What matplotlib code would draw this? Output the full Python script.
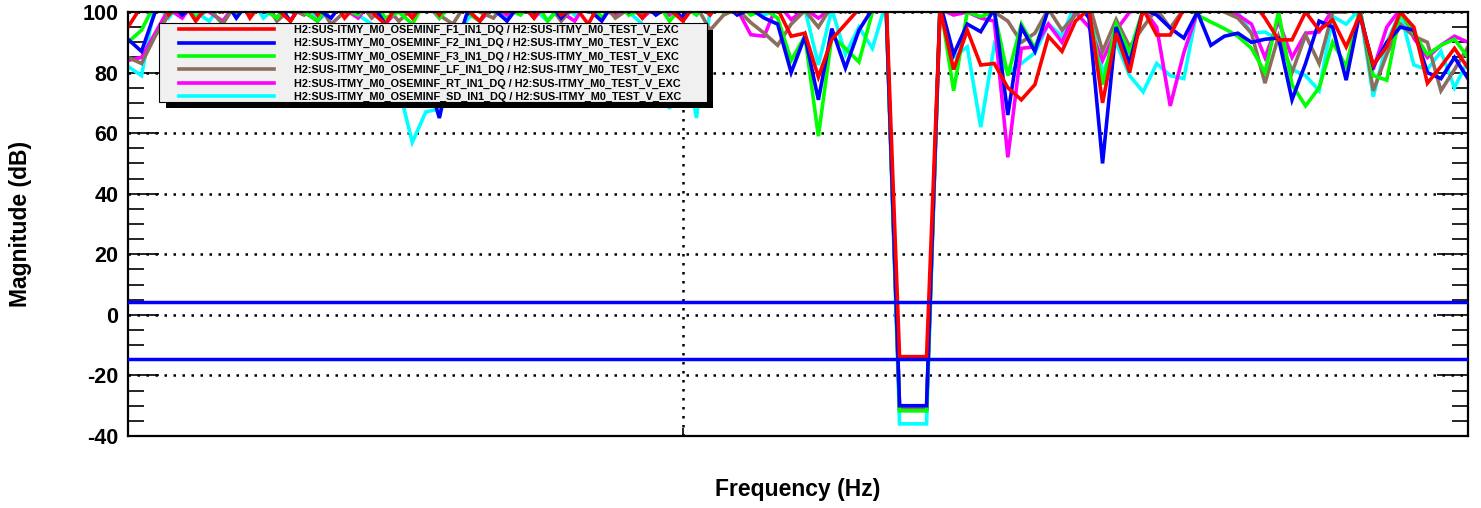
#!/usr/bin/env python3
"""ITMY M0 OSEM -> TEST_V transfer function magnitude (6 OSEM channels)."""
import matplotlib
matplotlib.use("Agg")
import matplotlib.pyplot as plt
from matplotlib.patches import Rectangle
from matplotlib.ticker import FixedLocator, MultipleLocator, NullLocator, NullFormatter

OUT = "out.png"

# swept-sine frequency points (Hz), 60 per decade
FREQ = [0.2073, 0.2154, 0.2239, 0.2326, 0.2417, 0.2512, 0.2610, 0.2712, 0.2818, 0.2929,
        0.3043, 0.3162, 0.3286, 0.3415, 0.3548, 0.3687, 0.3831, 0.3981, 0.4137, 0.4299,
        0.4467, 0.4642, 0.4823, 0.5012, 0.5208, 0.5412, 0.5623, 0.5843, 0.6072, 0.6310,
        0.6556, 0.6813, 0.7079, 0.7356, 0.7644, 0.7943, 0.8254, 0.8577, 0.8913, 0.9261,
        0.9624, 1.000, 1.039, 1.080, 1.122, 1.166, 1.212, 1.259, 1.308, 1.359,
        1.413, 1.468, 1.525, 1.585, 1.647, 1.711, 1.778, 1.848, 1.920, 1.995,
        2.073, 2.154, 2.239, 2.326, 2.417, 2.512, 2.610, 2.712, 2.818, 2.929,
        3.043, 3.162, 3.286, 3.415, 3.548, 3.687, 3.831, 3.981, 4.137, 4.299,
        4.467, 4.642, 4.823, 5.012, 5.208, 5.412, 5.623, 5.843, 6.072, 6.310,
        6.556, 6.813, 7.079, 7.356, 7.644, 7.943, 8.254, 8.577, 8.913, 9.261]

# magnitudes (dB)
MAG_F1 = [95, 102, 105, 99, 104, 97, 103, 100, 106, 98,
          104, 101, 97, 104, 99, 105, 98, 103, 100, 96,
          103, 98, 104, 99, 105, 101, 97, 104, 100, 103,
          98, 105, 99, 102, 96, 104, 100, 103, 98, 104,
          101, 97, 103, 99, 105, 100, 104, 102, 101, 92,
          93, 78.5, 91, 96, 101, 104, 106, -13.8, -13.8, -13.8,
          101, 81, 94, 82.5, 83, 75, 71, 76, 92, 87,
          97, 101, 70, 93, 80, 101, 92.4, 92.4, 101, 104,
          103, 105, 101, 104, 98, 90.8, 90.8, 100, 94, 97.4,
          88.5, 99, 82.5, 88.5, 100, 95, 76.5, 82, 88, 81.5]
MAG_F2 = [91, 87, 100, 104, 99, 103, 101, 105, 98, 104,
          100, 103, 97, 104, 101, 98, 104, 100, 103, 96,
          90, 88, 80, 65, 85, 99, 104, 101, 97, 103,
          100, 104, 98, 103, 101, 97, 104, 100, 103, 99,
          102, 98, 104, 100, 103, 99, 101, 98, 96, 80,
          92, 71, 94.5, 81.5, 94, 101, 104, -30, -30, -30,
          103, 86, 96, 93.5, 101, 66, 95, 87, 101, 103,
          104, 98, 50, 95, 83, 101, 99, 94.7, 91.4, 100,
          89, 92, 93, 90, 91, 91.4, 71, 83, 97, 95,
          77.5, 99.5, 82, 90, 95, 94, 80, 78, 85, 78]
MAG_F3 = [90, 94, 103, 99, 104, 98, 102, 105, 99, 103,
          101, 98, 104, 100, 97, 104, 101, 99, 105, 98,
          100, 96, 104, 98, 103, 100, 97, 105, 101, 99,
          104, 97, 102, 100, 105, 98, 103, 99, 101, 104,
          97, 102, 99, 104, 100, 103, 99, 101, 98, 84,
          92, 59, 92, 88, 83.5, 100, 104, -31.7, -31.7, -31.7,
          103, 74, 100, 98.5, 100, 79, 96, 88, 101, 103,
          102, 100, 76, 96, 86.5, 101, 104, 102, 103, 99,
          96.7, 94.5, 92, 88, 80, 100, 76, 69, 75, 90,
          82, 101, 79, 77.5, 100, 93, 86, 89, 91, 85]
MAG_LF = [85, 83, 92, 99, 104, 98, 101, 96, 103, 99,
          104, 97, 101, 99, 103, 96, 100, 104, 98, 102,
          97, 101, 104, 99, 96, 103, 100, 98, 104, 101,
          99, 103, 97, 102, 100, 104, 98, 101, 99, 103,
          100, 98, 102, 94, 99, 101, 96.5, 93, 89, 96,
          100.5, 95, 102, 100, 104, 103, 104, -31, -31, -31,
          102, 100, 103, 101, 100, 97, 90, 93, 101, 94,
          99, 103, 87, 97.5, 88.5, 95, 101, 94.7, 101, 104,
          102, 100, 98, 93, 76.5, 92, 80, 92.4, 83, 100,
          100, 102, 74, 86, 96, 92, 90, 74, 81, 88.5]
MAG_RT = [84, 85, 93, 101, 98, 104, 100, 97, 103, 99,
          102, 98, 104, 100, 97, 103, 101, 98, 104, 96,
          101, 99, 103, 98, 104, 100, 97, 102, 99, 104,
          98, 103, 100, 97, 104, 101, 99, 103, 98, 102,
          99, 103, 100, 101, 104, 101, 92.5, 92, 103, 97.5,
          101, 98, 101, 103, 104, 102, 104, -31, -31, -31,
          101, 99, 100, 98, 97, 52, 88, 88.5, 96, 90,
          100, 95, 84, 94, 100, 101, 95, 69, 86.5, 100,
          103, 101, 99, 96, 85, 97, 85, 93, 93.4, 101,
          102, 100, 81, 95, 101, 91.4, 85, 89, 92, 90]
MAG_SD = [82, 79, 103, 98, 104, 100, 97, 103, 99, 105,
          98, 102, 100, 104, 97, 101, 103, 99, 96, 85,
          75, 57, 67, 68, 80, 97, 103, 100, 98, 104,
          101, 97, 103, 99, 104, 98, 102, 100, 96, 85,
          68, 90, 65, 101, 104, 100, 103, 99, 101, 104,
          101, 82.5, 101, 86, 95, 88, 103, -36, -36, -36,
          102, 85, 88.5, 62, 89, 80, 83, 86.5, 96, 92,
          103, 101, 80, 90, 79, 73.6, 83, 79, 78, 101,
          104, 102, 100, 93, 93.4, 90.8, 81, 79, 74, 98.5,
          96, 101, 72, 90, 100, 82.5, 81, 87, 75, 84]

# the two flat reference traces (dB)
REF_LEVELS = [4.1, -14.7]

LABELS = ["H2:SUS-ITMY_M0_OSEMINF_%s_IN1_DQ / H2:SUS-ITMY_M0_TEST_V_EXC" % ch
          for ch in ["F1", "F2", "F3", "LF", "RT", "SD"]]
SERIES = [MAG_F1, MAG_F2, MAG_F3, MAG_LF, MAG_RT, MAG_SD]
COLORS = ["#ff0000", "#0000ff", "#00ff00", "#8c6e5e", "#ff00ff", "#00ffff"]

W, H = 1481, 508


def main():
    for s in SERIES:
        assert len(s) == len(FREQ)

    plt.rcParams["font.family"] = ["Liberation Sans", "DejaVu Sans"]
    plt.rcParams["font.weight"] = "bold"
    plt.rcParams["axes.labelweight"] = "bold"
    plt.rcParams["axes.unicode_minus"] = False

    fig = plt.figure(figsize=(W / 100, H / 100), dpi=100)
    ax = fig.add_axes([128 / W, 72 / H, 1340 / W, 424 / H])

    # ROOT draws trace 0 last-on-top here -> plot in reverse
    handles = [None] * len(SERIES)
    for k in reversed(range(len(SERIES))):
        handles[k], = ax.plot(FREQ, SERIES[k], color=COLORS[k], lw=2.6,
                              solid_joinstyle="miter")
    for lvl in REF_LEVELS:
        ax.axhline(lvl, color="#0000ff", lw=2.5, zorder=3)

    ax.set_xscale("log")
    ax.set_xlim(FREQ[0], FREQ[-1])
    ax.set_ylim(-40, 100)

    ax.xaxis.set_major_locator(FixedLocator([1.0]))
    ax.xaxis.set_major_formatter(NullFormatter())
    ax.xaxis.set_minor_locator(NullLocator())
    ax.yaxis.set_major_locator(MultipleLocator(20))
    ax.yaxis.set_minor_locator(MultipleLocator(5))

    ax.tick_params(axis="x", which="major", direction="in", top=True, bottom=True,
                   length=6, width=1.2, labelbottom=False)
    ax.tick_params(axis="y", which="major", direction="in", left=True, right=True,
                   length=22, width=1.2, labelsize=15.5, pad=7)
    ax.tick_params(axis="y", which="minor", direction="in", left=True, right=True,
                   length=11.5, width=1.2)
    for sp in ax.spines.values():
        sp.set_linewidth(1.6)

    ax.grid(True, which="major", color="k", ls=(0, (1, 2.6)), lw=1.8)
    ax.set_axisbelow(True)

    ax.set_ylabel("Magnitude (dB)", fontsize=16.5, fontweight="bold", va="center")
    ax.yaxis.set_label_coords(-0.0799, 0.5)
    ax.set_xlabel("Frequency (Hz)", fontsize=16.5, fontweight="bold", va="center")
    ax.xaxis.set_label_coords(0.5, -0.127)

    # legend box with a hard black drop shadow, ROOT style
    ax.add_patch(Rectangle(((166 - 128) / 1340, (436 - 108) / 424), 547 / 1340, 78 / 424,
                           transform=ax.transAxes, facecolor="k", edgecolor="none",
                           zorder=4.4))
    ax.add_patch(Rectangle(((159 - 128) / 1340, (436 - 102) / 424), 548 / 1340, 79 / 424,
                           transform=ax.transAxes, facecolor="#f0f0f0", edgecolor="k",
                           lw=0.8, zorder=4.5))
    ax.legend(handles, LABELS, loc="upper left",
              bbox_to_anchor=((179 - 128) / 1340, (436 - 25) / 424),
              frameon=False, borderpad=0, borderaxespad=0, fontsize=7.8,
              handlelength=8.8, handletextpad=1.85, labelspacing=0.3)

    fig.savefig(OUT, dpi=100)


if __name__ == "__main__":
    main()
